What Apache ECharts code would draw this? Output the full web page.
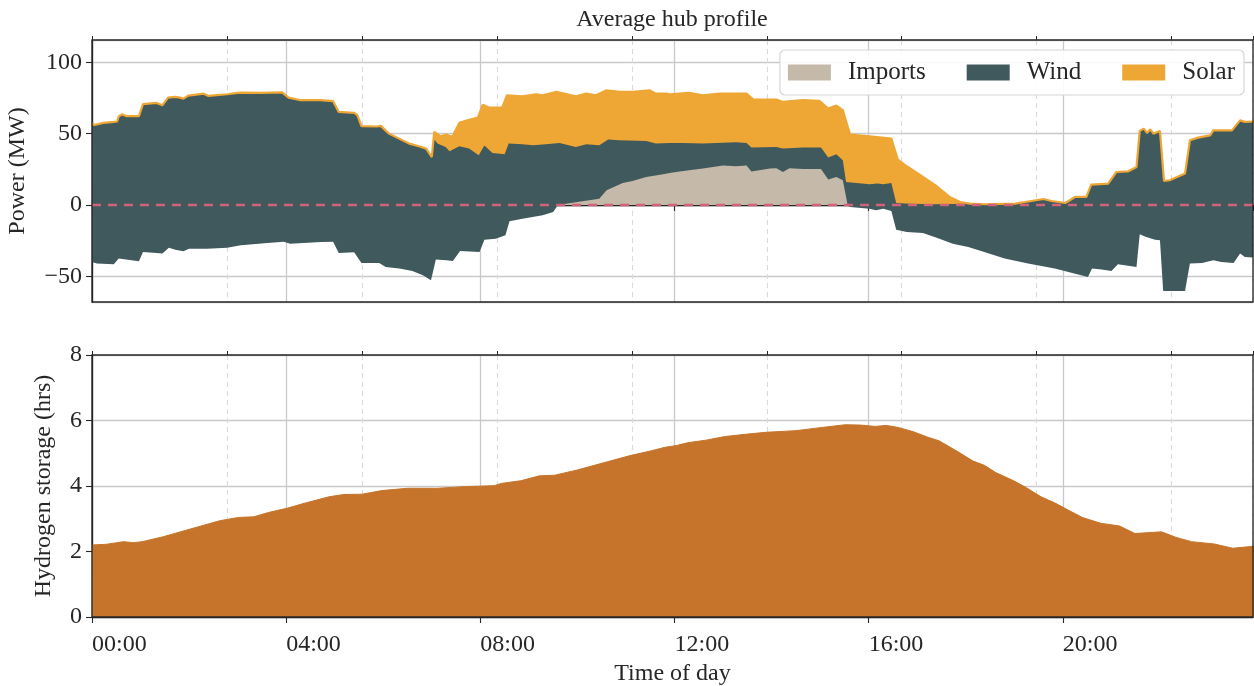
<!DOCTYPE html>
<html>
<head>
<meta charset="utf-8">
<script src="https://cdn.jsdelivr.net/npm/echarts@6/dist/echarts.min.js"></script>
<style>html,body{margin:0;padding:0;background:#fff}#c{width:1254px;height:686px}</style>
</head>
<body>
<div id="c"></div>
<script>
// ---- data: [minute of day, value] ----
// upper edge of the stacked profile (wind + solar + imports), MW
const solarTop = [[0,57.5],[3,56],[14,57.5],[27,58.2],[31,58.5],[33,62],[37,63.5],[43,62.2],[58,62.2],[63,70.6],[80,71.5],[87,69.8],[94,75.2],[103,75.7],[109,75.2],[113,74.5],[119,76.6],[138,78],[144,76.4],[167,77.6],[183,78.7],[208,78.5],[235,78.9],[243,75.2],[258,73.4],[282,73.4],[298,72.7],[305,65.2],[324,64.5],[328,63],[333,55.2],[352,55],[357,55.4],[367,50],[392,43],[405,41],[413,39.5],[420,33.6],[423,51.2],[431,48.1],[438,49.3],[445,47.7],[454,57.5],[464,59.3],[477,61.2],[483,70.3],[491,68.2],[507,68.2],[513,76.9],[532,76.2],[549,77.6],[557,76.9],[574,79.2],[598,76.2],[611,78],[623,76.9],[636,80.4],[652,79.2],[669,79.2],[689,80.4],[697,78],[710,78],[714,77.6],[738,78.5],[755,76.9],[776,78],[809,78],[817,74],[846,73.8],[854,72.2],[879,73.4],[899,72.9],[910,67.5],[920,69.6],[928,66.4],[937,49.3],[961,48.1],[988,46.5],[996,31.8],[1007,27.1],[1027,19.6],[1044,13.1],[1060,5.6],[1073,2.1],[1085,0.9],[1103,0.5],[1141,0.9],[1161,2.8],[1176,4.2],[1186,2.8],[1203,1.4],[1215,5.6],[1229,5.6],[1235,14.3],[1256,15],[1266,23.1],[1281,23.6],[1291,26.6],[1295,51.9],[1300,53.5],[1304,50.5],[1308,53],[1312,50],[1320,51.9],[1325,16.8],[1332,17.3],[1351,22],[1357,45.3],[1367,47.2],[1382,48.8],[1386,52.3],[1409,52.3],[1419,59.3],[1425,58.2],[1440,58.6]];
// upper edge of wind (wind + imports), MW
const windTop = [[0,57.5],[3,56],[14,57.5],[27,58.2],[31,58.5],[33,62],[37,63.5],[43,62.2],[58,62.2],[63,70.6],[80,71.5],[87,69.8],[94,75.2],[103,75.7],[109,75.2],[113,74.5],[119,76.6],[138,78],[144,76.4],[167,77.6],[183,78.7],[208,78.5],[235,78.9],[243,75.2],[258,73.4],[282,73.4],[298,72.7],[305,65.2],[324,64.5],[328,63],[333,55.2],[352,55],[357,55.4],[367,50],[392,43],[405,41],[413,39.5],[420,33.6],[423,46],[427,43],[437,40.7],[442,37.6],[454,41.1],[466,39.5],[478,34.8],[485,41.6],[495,36.4],[510,35.5],[515,43],[532,42.5],[545,41.8],[561,42.5],[578,43.5],[598,40.7],[611,42.5],[627,41.8],[638,45.8],[652,45.3],[685,44.9],[697,43],[714,43.5],[730,43.5],[755,43],[796,43.9],[809,43.5],[815,40.2],[846,40.7],[854,39.5],[879,40.2],[901,40.2],[910,33.2],[920,35.5],[928,31.3],[932,16.1],[945,15.4],[961,14.5],[971,15],[978,14.5],[988,15.4],[994,1.4],[1011,0.9],[1040,0.5],[1085,0.9],[1103,0.5],[1141,0.9],[1161,2.8],[1176,4.2],[1186,2.8],[1203,1.4],[1215,5.6],[1229,5.6],[1235,14.3],[1256,15],[1266,23.1],[1281,23.6],[1291,26.6],[1295,51.9],[1300,53.5],[1304,50.5],[1308,53],[1312,50],[1320,51.9],[1325,16.8],[1332,17.3],[1351,22],[1357,45.3],[1367,47.2],[1382,48.8],[1386,52.3],[1409,52.3],[1419,59.3],[1425,58.2],[1440,58.6]];
// upper edge of imports, MW
const importsTop = [[560,0],[575,0],[586,0.9],[602,2.3],[627,4.4],[636,10.3],[656,15.4],[668,16.8],[685,19.6],[706,21.5],[714,22.4],[722,23.1],[738,24.3],[755,25.5],[780,27.6],[796,27.1],[809,27.6],[815,23.4],[838,25.5],[846,25.8],[854,23.1],[862,25.7],[879,25.2],[901,25.2],[910,17.8],[920,19.6],[928,17.3],[934,0],[945,0]];
// lower edge of the wind band (below zero), MW
const windBottom = [[0,-40],[6,-41.1],[27,-41.6],[33,-37.6],[58,-39.5],[63,-32.9],[80,-33.6],[87,-34.1],[95,-29.9],[103,-31.3],[113,-32.5],[120,-30.6],[142,-30.6],[167,-29.9],[184,-28.3],[217,-26.6],[237,-25.7],[245,-27.1],[283,-25.9],[298,-25.7],[305,-33.6],[324,-33.2],[333,-40.7],[355,-40.7],[363,-43.5],[380,-44.6],[396,-46.3],[409,-49.3],[419,-52.8],[425,-38.3],[438,-38.8],[446,-39.3],[455,-32.2],[479,-32.9],[485,-24.3],[499,-23.6],[511,-21.3],[516,-11.4],[532,-9.6],[557,-7.2],[570,-4.9],[576,0],[932,0],[937,-1.4],[961,-2.6],[969,-3.7],[978,-2.6],[988,-4.2],[994,-17.3],[1007,-18.9],[1027,-19.6],[1044,-22.9],[1064,-27.1],[1083,-29.4],[1099,-32.2],[1128,-37.6],[1157,-41.1],[1190,-44.6],[1231,-50.5],[1236,-44.6],[1248,-45.3],[1260,-46.3],[1268,-41.6],[1291,-43.5],[1295,-20.6],[1303,-22.4],[1314,-24.3],[1320,-24.8],[1324,-60.3],[1351,-60.3],[1357,-41.1],[1372,-40.7],[1386,-38.8],[1396,-40],[1411,-40.7],[1419,-34.1],[1425,-36.4],[1440,-36.9]];
// hydrogen storage level, hours
const hydrogen = [[0,2.2],[18,2.22],[39,2.3],[51,2.27],[62,2.3],[88,2.45],[125,2.71],[158,2.94],[181,3.04],[200,3.06],[218,3.19],[241,3.32],[265,3.49],[293,3.67],[311,3.74],[334,3.75],[358,3.86],[390,3.93],[427,3.93],[460,3.98],[497,4.01],[506,4.08],[530,4.16],[553,4.31],[572,4.33],[600,4.49],[637,4.74],[664,4.92],[692,5.08],[708,5.18],[723,5.24],[736,5.32],[759,5.4],[782,5.51],[808,5.58],[833,5.64],[870,5.69],[903,5.79],[931,5.87],[950,5.86],[968,5.82],[982,5.85],[996,5.79],[1015,5.66],[1033,5.49],[1047,5.38],[1070,5.05],[1089,4.76],[1103,4.63],[1117,4.41],[1140,4.15],[1154,3.96],[1173,3.67],[1191,3.47],[1210,3.22],[1224,3.04],[1247,2.86],[1270,2.78],[1289,2.55],[1322,2.6],[1340,2.43],[1359,2.3],[1387,2.23],[1410,2.1],[1440,2.17]];

const legendNames = ['Imports', 'Wind', 'Solar'];
const xMax = 1435;          // 23:55
const majorStep = 240;      // 4 h
const minorStep = 166.8;    // dashed guide spacing (min)
const zeroLevel = 0;        // reference line (MW)
const dayStart = 0, dayEnd = 1440;

// ---- styling ----
const FONT = 'Liberation Serif';
const TXT = '#262626';
const C_WIND = '#40595d', C_SOLAR = '#eea735', C_IMP = '#c5baa9', C_H2 = '#c6742b';
const GRID_C = '#c9c9cd';
const fmtTime = v => String(Math.floor(v / 60)).padStart(2, '0') + ':' + String(Math.round(v % 60)).padStart(2, '0');
const fmtNum = v => v < 0 ? '\u2212' + (-v) : String(v);

function xMajor(gi, labels) {
  return {
    gridIndex: gi, type: 'value', min: 0, max: xMax, interval: majorStep,
    axisLine: { show: true, lineStyle: { color: TXT, width: 1.3 } },
    axisTick: { show: true, length: 6, lineStyle: { color: TXT, width: 1.1 } },
    axisLabel: labels ? { show: true, align: 'left', margin: 16, showMaxLabel: false,
      formatter: v => (v % majorStep === 0 ? fmtTime(v) : ''),
      fontFamily: FONT, fontSize: 24, color: TXT } : { show: false },
    splitLine: { show: true, lineStyle: { color: GRID_C, width: 1.3 } },
    name: labels ? 'Time of day' : '', nameLocation: 'middle', nameGap: 45,
    nameTextStyle: { fontFamily: FONT, fontSize: 24, color: TXT }
  };
}
function xMinor(gi) {
  return {
    gridIndex: gi, type: 'value', min: 0, max: xMax, interval: minorStep,
    axisLine: { show: false }, axisLabel: { show: false },
    axisTick: { show: true, length: 4, lineStyle: { color: TXT, width: 1 } },
    splitLine: { show: true, lineStyle: { color: '#dadada', width: 1.1, type: [5, 4] } }
  };
}

const option = {
  animation: false,
  backgroundColor: '#fff',
  title: { text: 'Average hub profile', left: 672, top: 8, textAlign: 'center', padding: 0,
    textStyle: { fontFamily: FONT, fontSize: 24, fontWeight: 'normal', color: TXT } },
  legend: {
    data: legendNames, right: 10, top: 50, orient: 'horizontal',
    icon: 'rect', itemWidth: 43, itemHeight: 16, itemGap: 41,
    padding: [10, 9, 10, 8],
    backgroundColor: 'rgba(255,255,255,0.9)', borderColor: '#d6d6d6', borderWidth: 1.2, borderRadius: 5,
    textStyle: { fontFamily: FONT, fontSize: 25, color: TXT, padding: [0, 0, 0, 12] },
    itemStyle: { borderWidth: 0 }
  },
  grid: [
    { left: 92, right: 1, top: 40, height: 262, show: true, borderColor: TXT, borderWidth: 1.3, backgroundColor: 'transparent', z: 10, outerBoundsMode: 'none', containLabel: false },
    { left: 92, right: 1, top: 355, height: 262, show: true, borderColor: TXT, borderWidth: 1.3, backgroundColor: 'transparent', z: 10, outerBoundsMode: 'none', containLabel: false }
  ],
  xAxis: [xMajor(0, false), xMinor(0), xMajor(1, true), xMinor(1)],
  yAxis: [
    { gridIndex: 0, type: 'value', min: -68, max: 115.6, splitNumber: 4,
      axisLine: { show: true, lineStyle: { color: TXT, width: 1.3 } },
      axisTick: { show: true, length: 6, lineStyle: { color: TXT, width: 1.1 } },
      axisLabel: { showMinLabel: false, showMaxLabel: false, margin: 10, formatter: fmtNum,
        fontFamily: FONT, fontSize: 24, color: TXT },
      splitLine: { show: true, lineStyle: { color: GRID_C, width: 1.3 } },
      name: 'Power (MW)', nameLocation: 'middle', nameGap: 62,
      nameTextStyle: { fontFamily: FONT, fontSize: 24, color: TXT } },
    { gridIndex: 1, type: 'value', min: 0, max: 8, interval: 2,
      axisLine: { show: true, lineStyle: { color: TXT, width: 1.3 } },
      axisTick: { show: true, length: 6, lineStyle: { color: TXT, width: 1.1 } },
      axisLabel: { margin: 10, fontFamily: FONT, fontSize: 24, color: TXT },
      splitLine: { show: true, lineStyle: { color: GRID_C, width: 1.3 } },
      name: 'Hydrogen storage (hrs)', nameLocation: 'middle', nameGap: 36,
      nameTextStyle: { fontFamily: FONT, fontSize: 24, color: TXT } }
  ],
  series: [
    { name: 'Solar', type: 'line', xAxisIndex: 0, yAxisIndex: 0, data: solarTop, symbol: 'none', z: 2,
      itemStyle: { color: C_SOLAR }, lineStyle: { width: 0, color: C_SOLAR }, areaStyle: { color: C_SOLAR, opacity: 1 } },
    { name: 'Wind', type: 'line', xAxisIndex: 0, yAxisIndex: 0, data: windTop, symbol: 'none', z: 3,
      itemStyle: { color: C_WIND }, lineStyle: { width: 0, color: C_WIND }, areaStyle: { color: C_WIND, opacity: 1 } },
    { name: 'Imports', type: 'line', xAxisIndex: 0, yAxisIndex: 0, data: importsTop, symbol: 'none', z: 4,
      itemStyle: { color: C_IMP }, lineStyle: { width: 0, color: C_IMP }, areaStyle: { color: C_IMP, opacity: 1 } },
    { name: 'Wind (lower)', type: 'line', xAxisIndex: 0, yAxisIndex: 0, data: windBottom, symbol: 'none', z: 5,
      itemStyle: { color: C_WIND }, lineStyle: { width: 0, color: C_WIND }, areaStyle: { color: C_WIND, opacity: 1 } },
    { name: 'Solar edge', type: 'line', xAxisIndex: 0, yAxisIndex: 0, data: solarTop, symbol: 'none', z: 6,
      itemStyle: { color: C_SOLAR }, lineStyle: { width: 2.2, color: C_SOLAR } },
    { name: 'Zero line', type: 'line', xAxisIndex: 0, yAxisIndex: 0, symbol: 'none', z: 7, silent: true,
      data: [[dayStart, zeroLevel], [dayEnd, zeroLevel]],
      itemStyle: { color: '#d2627a' }, lineStyle: { color: '#d2627a', width: 2.6, type: [9, 7] } },
    { name: 'Hydrogen storage', type: 'line', xAxisIndex: 2, yAxisIndex: 1, data: hydrogen, symbol: 'none', z: 2,
      itemStyle: { color: C_H2 }, lineStyle: { width: 1, color: C_H2 }, areaStyle: { color: C_H2, opacity: 1 } }
  ]
};
const chart = echarts.init(document.getElementById('c'), null, { renderer: 'canvas' });
chart.setOption(option);
</script>
</body>
</html>
